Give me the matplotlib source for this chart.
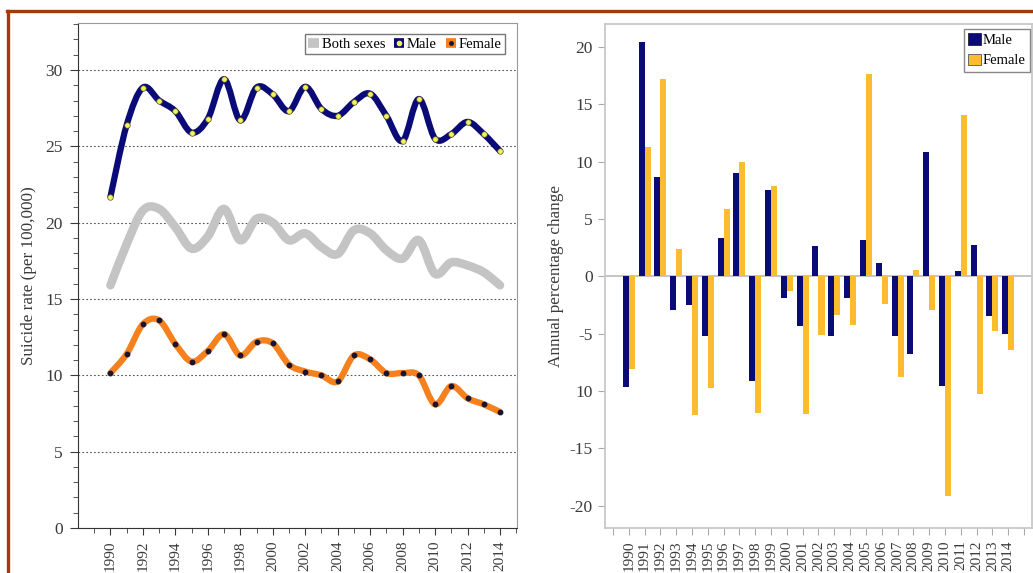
import matplotlib.pyplot as plt
from matplotlib.path import Path
from matplotlib.patches import PathPatch, Patch
from matplotlib.lines import Line2D

plt.rcParams['font.family'] = ['Liberation Serif', 'DejaVu Serif']

# -------- Data --------
years = list(range(1990, 2015))

both_sexes = [15.9, 18.6, 20.8, 20.9, 19.7, 18.3, 19.1, 20.9, 18.85, 20.25,
              20.0, 18.85, 19.3, 18.4, 17.95, 19.5, 19.3, 18.2, 17.65, 18.85,
              16.65, 17.4, 17.2, 16.75, 15.9]
male_rate = [21.7, 26.4, 28.85, 28.0, 27.3, 25.9, 26.8, 29.4, 26.7, 28.85,
             28.4, 27.3, 28.9, 27.45, 27.0, 27.9, 28.45, 27.0, 25.35, 28.1,
             25.5, 25.8, 26.6, 25.8, 24.7]
female_rate = [10.15, 11.4, 13.35, 13.6, 12.05, 10.9, 11.6, 12.7, 11.3, 12.2,
               12.1, 10.7, 10.25, 10.0, 9.6, 11.3, 11.05, 10.15, 10.15, 10.0,
               8.1, 9.3, 8.5, 8.1, 7.6]

male_change = [-9.67, 20.4, 8.65, -2.96, -2.5, -5.2, 3.34, 9.0, -9.15, 7.55,
               -1.9, -4.3, 2.6, -5.2, -1.9, 3.2, 1.2, -5.2, -6.8, 10.8,
               -9.55, 0.44, 2.75, -3.5, -5.0]
female_change = [-8.07, 11.26, 17.2, 2.38, -12.1, -9.7, 5.83, 10.0, -11.9, 7.84,
                 -1.3, -12.05, -5.1, -3.34, -4.24, 17.67, -2.38, -8.77, 0.58, -2.9,
                 -19.2, 14.1, -10.3, -4.79, -6.44]

change_ticks = [-20, -15, -10, -5, 0, 5, 10, 15, 20]
change_tick_labels = ['-20', '-15', '10', '-5', '0', '5', '10', '15', '20']

NAVY = '#0b0b78'
ORANGE = '#f5801e'
GREY = '#c4c4c4'
GOLD = '#fbbc2e'
TEXT = '#3a3a3a'


def smooth_path(x, y):
    # Catmull-Rom curve through every point, written as cubic Bezier segments
    verts = [(x[0], y[0])]
    codes = [Path.MOVETO]
    n = len(x)
    for i in range(n - 1):
        x0, y0 = (x[i - 1], y[i - 1]) if i > 0 else (x[i], y[i])
        x3, y3 = (x[i + 2], y[i + 2]) if i + 2 < n else (x[i + 1], y[i + 1])
        c1 = (x[i] + (x[i + 1] - x0) / 6, y[i] + (y[i + 1] - y0) / 6)
        c2 = (x[i + 1] - (x3 - x[i]) / 6, y[i + 1] - (y3 - y[i]) / 6)
        verts += [c1, c2, (x[i + 1], y[i + 1])]
        codes += [Path.CURVE4] * 3
    return Path(verts, codes)


def add_curve(ax, x, y, color, lw, zorder):
    patch = PathPatch(smooth_path(x, y), fill=False, edgecolor=color, lw=lw,
                      capstyle='round', joinstyle='round', zorder=zorder)
    ax.add_patch(patch)


fig = plt.figure(figsize=(10.33, 5.73), dpi=100)

# -------- Left: suicide rates --------
ax1 = fig.add_axes([0.0755, 0.0785, 0.425, 0.882])
add_curve(ax1, years, both_sexes, GREY, 6.2, 2)
add_curve(ax1, years, male_rate, NAVY, 4.5, 3)
add_curve(ax1, years, female_rate, ORANGE, 4.5, 3)
ax1.plot(years, male_rate, 'o', ms=4, mfc='#f4f25c', mec='#55551a', mew=0.5, zorder=4)
ax1.plot(years, female_rate, 'o', ms=3.2, mfc='#1a1430', mec='#1a1430', zorder=4)

ax1.set_xlim(1988.0, 2015.05)
ax1.set_ylim(0, 33.1)
ax1.set_xticks(range(1990, 2015, 2))
ax1.set_xticks(range(1989, 2016), minor=True)
ax1.set_yticks(range(0, 31, 5))
ax1.set_yticks(range(0, 34), minor=True)
ax1.tick_params(axis='x', labelrotation=90, labelsize=11, colors=TEXT, length=5, pad=4)
ax1.tick_params(axis='x', which='minor', length=3.5, colors=TEXT)
ax1.tick_params(axis='y', labelsize=12.5, colors=TEXT, length=6, pad=5)
ax1.tick_params(axis='y', which='minor', length=3.5, colors=TEXT)
ax1.yaxis.grid(True, linestyle=(0, (1.5, 2)), color='#555555', lw=0.8)
ax1.set_axisbelow(True)
for side in ['left', 'bottom']:
    ax1.spines[side].set_color('#333333')
for side in ['top', 'right']:
    ax1.spines[side].set_color('#999999')
ax1.set_ylabel('Suicide rate (per 100,000)', fontsize=12.3, color=TEXT, labelpad=6)

handles = [
    Line2D([0], [0], color=GREY, lw=7, solid_capstyle='butt'),
    Line2D([0], [0], color=NAVY, lw=7, solid_capstyle='butt', marker='o', ms=3,
           mfc='#f4f25c', mec='#f4f25c'),
    Line2D([0], [0], color=ORANGE, lw=7, solid_capstyle='butt', marker='o', ms=2.5,
           mfc='#1a1430', mec='#1a1430'),
]
ax1.legend(handles, ['Both sexes', 'Male', 'Female'], loc='upper right', ncol=3,
           fontsize=10.5, handlelength=0.7, handletextpad=0.2, columnspacing=0.6,
           fancybox=False, edgecolor='#777777', framealpha=1, borderpad=0.25,
           borderaxespad=0, bbox_to_anchor=(0.973, 0.978))

# -------- Right: annual percentage change --------
ax2 = fig.add_axes([0.5857, 0.0785, 0.4133, 0.8796])
w = 0.38
ax2.bar([y - w / 2 for y in years], male_change, width=w, color=NAVY, label='Male', zorder=2)
ax2.bar([y + w / 2 for y in years], female_change, width=w, color=GOLD, label='Female', zorder=2)
ax2.axhline(0, color='#bbbbbb', lw=1.2, zorder=1)

ax2.set_xlim(1988.5, 2015.5)
ax2.set_ylim(-21.95, 22.0)
ax2.set_xticks(range(1989, 2016))
ax2.set_xticklabels([''] + [str(y) for y in years] + [''])
ax2.set_yticks(change_ticks)
ax2.set_yticklabels(change_tick_labels)
ax2.tick_params(axis='x', labelrotation=90, labelsize=11, colors='#aaaaaa',
                labelcolor=TEXT, length=5, pad=4)
ax2.tick_params(axis='y', labelsize=12.5, colors='#aaaaaa', labelcolor=TEXT, length=5, pad=4)
for side in ax2.spines:
    ax2.spines[side].set_color('#c8c8c8')
    ax2.spines[side].set_linewidth(1.3)
ax2.set_ylabel('Annual percentage change', fontsize=12.3, color=TEXT, labelpad=4)

leg_handles = [Patch(facecolor=NAVY, edgecolor='#222222', lw=0.6),
               Patch(facecolor=GOLD, edgecolor='#555555', lw=0.6)]
ax2.legend(leg_handles, ['Male', 'Female'], loc='upper right', fontsize=10.5,
           handlelength=0.9, handleheight=0.8, handletextpad=0.1, labelspacing=0.45,
           fancybox=False, edgecolor='#888888', framealpha=1, borderpad=0.3,
           borderaxespad=0, bbox_to_anchor=(0.995, 0.99))

# -------- Brown frame around the figure --------
frame = '#a23a0c'
fig.add_artist(Line2D([0.0068, 1.0], [0.980, 0.980], color=frame, lw=2.4))
fig.add_artist(Line2D([0.0082, 0.0082], [0.0, 0.980], color=frame, lw=2.4))

plt.savefig('out.png', dpi=100)
